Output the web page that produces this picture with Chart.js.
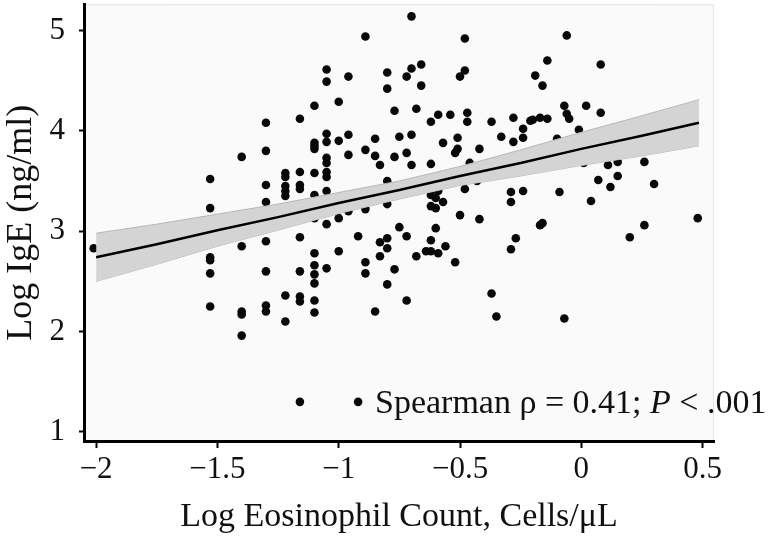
<!DOCTYPE html>
<html>
<head>
<meta charset="utf-8">
<script src="https://cdn.jsdelivr.net/npm/chart.js@4.4.1/dist/chart.umd.min.js"></script>
<style>
  html, body { margin: 0; padding: 0; background: #fff; }
  #wrap { width: 768px; height: 537px; }
</style>
</head>
<body>
<div id="wrap"><canvas id="chart" width="768" height="537"></canvas></div>
<script>
// scatter points
const logEos = [
  -2.01,
  -1.53, -1.53, -1.53, -1.53, -1.53, -1.53,
  -1.40, -1.40, -1.40, -1.40, -1.40,
  -1.30, -1.30, -1.30, -1.30, -1.30, -1.30, -1.30, -1.30,
  -1.22, -1.22, -1.22, -1.22, -1.22, -1.22, -1.22,
  -1.16, -1.16, -1.16, -1.16, -1.16, -1.16, -1.16, -1.16, -1.16,
  -1.10, -1.10, -1.10, -1.10, -1.10, -1.10, -1.10, -1.10, -1.10, -1.10, -1.10, -1.10, -1.10,
  -1.05, -1.05, -1.05, -1.05, -1.05, -1.05, -1.05, -1.05, -1.05, -1.05, -1.05,
  -1.00, -1.00, -1.00, -1.00,
  -0.96, -0.96, -0.96, -0.96,
  -0.92, -0.92,
  -0.89, -0.89, -0.89, -0.89, -0.89,
  -0.85, -0.85, -0.85,
  -0.83, -0.83, -0.83,
  -0.80, -0.80, -0.80, -0.80, -0.80, -0.80, -0.80,
  -0.77, -0.77, -0.77,
  -0.75, -0.75,
  -0.72, -0.72, -0.72, -0.72,
  -0.70, -0.70, -0.70, -0.70,
  -0.68, -0.68,
  -0.66, -0.66,
  -0.64,
  -0.62, -0.62, -0.62, -0.62, -0.62, -0.62,
  -0.60, -0.60, -0.60,
  -0.59, -0.59, -0.59,
  -0.57, -0.57,
  -0.56,
  -0.54,
  -0.52, -0.52,
  -0.51, -0.51,
  -0.50, -0.50,
  -0.48, -0.48, -0.48,
  -0.47, -0.47,
  -0.46,
  -0.43,
  -0.42, -0.42,
  -0.37, -0.37,
  -0.35,
  -0.33,
  -0.29, -0.29, -0.29,
  -0.28, -0.28,
  -0.27,
  -0.24, -0.24, -0.24,
  -0.21,
  -0.20,
  -0.19,
  -0.17, -0.17,
  -0.16, -0.16,
  -0.14, -0.14,
  -0.10,
  -0.09,
  -0.07, -0.07,
  -0.06, -0.06,
  -0.05,
  -0.01,
  0.01,
  0.02,
  0.04,
  0.07,
  0.08, 0.08,
  0.11,
  0.12,
  0.15, 0.15,
  0.20,
  0.26, 0.26,
  0.30,
  0.48
];
const logIgE = [
  2.83,
  3.52, 3.23, 2.74, 2.71, 2.58, 2.25,
  3.74, 2.85, 2.20, 2.17, 1.96,
  4.08, 3.80, 3.46, 3.29, 2.90, 2.60, 2.26, 2.20,
  3.58, 3.54, 3.45, 3.40, 3.35, 2.36, 2.10,
  4.12, 3.59, 3.46, 3.42, 2.94, 2.60, 2.35, 2.30, 1.30,
  4.25, 3.88, 3.85, 3.82, 3.58, 3.36, 3.13, 2.78, 2.66, 2.57, 2.48, 2.31, 2.19,
  4.61, 4.49, 3.97, 3.89, 3.73, 3.68, 3.59, 3.54, 3.40, 3.07, 2.63,
  4.29, 3.90, 3.13, 2.80,
  4.54, 3.96, 3.76, 3.20,
  2.95, 1.30,
  4.94, 3.81, 3.22, 2.69, 2.58,
  3.92, 3.75, 2.20,
  3.66, 2.89, 2.75,
  4.58, 4.42, 3.50, 3.27, 2.93, 2.83, 2.47,
  4.20, 3.74, 2.62,
  3.94, 3.04,
  4.54, 3.78, 2.95, 2.31,
  5.14, 4.62, 3.96, 3.66,
  4.22, 2.75,
  4.66, 4.45,
  2.80,
  4.09, 3.67, 3.36, 3.25, 2.91, 2.80,
  3.33, 3.23, 3.03,
  4.16, 3.40, 2.78,
  3.88, 3.29,
  2.85,
  4.16,
  3.78, 2.69,
  3.82, 3.93,
  3.16, 4.54,
  4.92, 4.60, 3.42,
  4.18, 4.09,
  3.68,
  3.50,
  3.82, 3.12,
  4.09, 2.38,
  2.15,
  3.94,
  3.39, 3.29, 2.82,
  4.13, 3.89,
  2.93,
  4.02, 3.93, 3.40,
  4.10,
  4.11,
  4.55,
  4.13, 3.06,
  4.45, 3.08,
  4.70, 4.12,
  3.92,
  3.39,
  4.25, 2.13,
  4.95, 4.17,
  4.12,
  4.01,
  3.68,
  4.25,
  3.30,
  3.51,
  4.66, 4.18,
  3.66,
  3.44,
  3.69, 3.55,
  2.94,
  3.69, 3.06,
  3.47,
  3.13
];

// fitted line and its confidence band
const fitX = [-2.0, -1.75, -1.5, -1.25, -1.0, -0.75, -0.5, -0.25, 0.0, 0.25, 0.485];
const fitY = [2.74, 2.87, 3.01, 3.14, 3.28, 3.41, 3.55, 3.68, 3.82, 3.95, 4.08];
const bandUpper = [2.98, 3.07, 3.17, 3.27, 3.385, 3.50, 3.645, 3.81, 3.985, 4.15, 4.31];
const bandLower = [2.50, 2.67, 2.85, 3.01, 3.175, 3.32, 3.455, 3.55, 3.655, 3.75, 3.85];

const xTicks = [-2, -1.5, -1, -0.5, 0, 0.5];
const yTicks = [1, 2, 3, 4, 5];

const SERIF = '"Liberation Serif", "DejaVu Serif", serif';

function fmt(v) {
  return v < 0 ? '\u2212' + Math.abs(v) : String(v);
}

// light panel behind the points
const plotBg = {
  id: 'plotBg',
  beforeDraw(chart) {
    const { ctx, chartArea: a } = chart;
    ctx.save();
    ctx.fillStyle = '#fafafa';
    ctx.fillRect(a.left, a.top, a.right - a.left, a.bottom - a.top);
    ctx.strokeStyle = '#e2e2e2';
    ctx.lineWidth = 1;
    ctx.beginPath();
    ctx.moveTo(a.left, a.top + 0.5);
    ctx.lineTo(a.right - 0.5, a.top + 0.5);
    ctx.lineTo(a.right - 0.5, a.bottom);
    ctx.stroke();
    ctx.restore();
  }
};

// Spearman note in the lower right
const statNote = {
  id: 'statNote',
  afterDatasetsDraw(chart) {
    const ctx = chart.ctx;
    const x0 = 375, base = 413;
    ctx.save();
    ctx.fillStyle = '#111';
    ctx.textBaseline = 'alphabetic';
    ctx.textAlign = 'left';
    ctx.font = '34px ' + SERIF;
    const a = 'Spearman \u03c1 = 0.41; ';
    ctx.fillText(a, x0, base);
    let x = x0 + ctx.measureText(a).width;
    ctx.font = 'italic 34px ' + SERIF;
    ctx.fillText('P', x, base);
    x += ctx.measureText('P').width;
    ctx.font = '34px ' + SERIF;
    ctx.fillText(' < .001', x, base);
    ctx.restore();
  }
};

const ctx = document.getElementById('chart').getContext('2d');

new Chart(ctx, {
  data: {
    datasets: [
      {
        type: 'scatter',
        data: logEos.map((x, i) => ({ x: x, y: logIgE[i] })),
        pointRadius: 4.3,
        pointBackgroundColor: '#080808',
        pointBorderWidth: 0,
        order: 3
      },
      {
        type: 'line',
        data: fitX.map((x, i) => ({ x: x, y: bandUpper[i] })),
        borderColor: '#b8b8b8',
        borderWidth: 1,
        backgroundColor: '#d4d4d4',
        fill: '+1',
        pointRadius: 0,
        order: 2
      },
      {
        type: 'line',
        data: fitX.map((x, i) => ({ x: x, y: bandLower[i] })),
        borderColor: '#b8b8b8',
        borderWidth: 1,
        fill: false,
        pointRadius: 0,
        order: 2
      },
      {
        type: 'line',
        data: fitX.map((x, i) => ({ x: x, y: fitY[i] })),
        borderColor: '#000',
        borderWidth: 2.5,
        fill: false,
        pointRadius: 0,
        order: 1
      }
    ]
  },
  options: {
    responsive: false,
    animation: false,
    devicePixelRatio: 1,
    layout: { padding: { top: 2, right: 54, left: 0, bottom: 0 } },
    plugins: {
      legend: { display: false },
      tooltip: { enabled: false }
    },
    scales: {
      x: {
        type: 'linear',
        min: -2.05,
        max: 0.547,
        afterFit: s => { s.height = 96; s.paddingLeft = 0; s.paddingRight = 0; },
        afterBuildTicks: s => { s.ticks = xTicks.map(v => ({ value: v })); },
        border: { display: true, color: '#000', width: 3 },
        grid: { drawOnChartArea: false, drawTicks: true, tickLength: 7, tickWidth: 2, tickColor: '#000' },
        ticks: { font: { family: SERIF, size: 31 }, color: '#111', padding: 3, callback: fmt, maxRotation: 0 },
        title: { display: true, text: 'Log Eosinophil Count, Cells/\u03bcL', font: { family: SERIF, size: 34 }, color: '#111', padding: { top: 0, bottom: 0 } }
      },
      y: {
        type: 'linear',
        min: 0.91,
        max: 5.26,
        afterFit: s => { s.width = 84; s.paddingTop = 0; s.paddingBottom = 0; },
        afterBuildTicks: s => { s.ticks = yTicks.map(v => ({ value: v })); },
        border: { display: true, color: '#000', width: 3 },
        grid: { drawOnChartArea: false, drawTicks: true, tickLength: 5, tickWidth: 2, tickColor: '#000' },
        ticks: { font: { family: SERIF, size: 31 }, color: '#111', padding: 14, callback: fmt },
        title: { display: true, text: 'Log IgE (ng/ml)', font: { family: SERIF, size: 36 }, color: '#111', padding: { top: 0, bottom: 0 } }
      }
    }
  },
  plugins: [plotBg, statNote]
});
</script>
</body>
</html>
